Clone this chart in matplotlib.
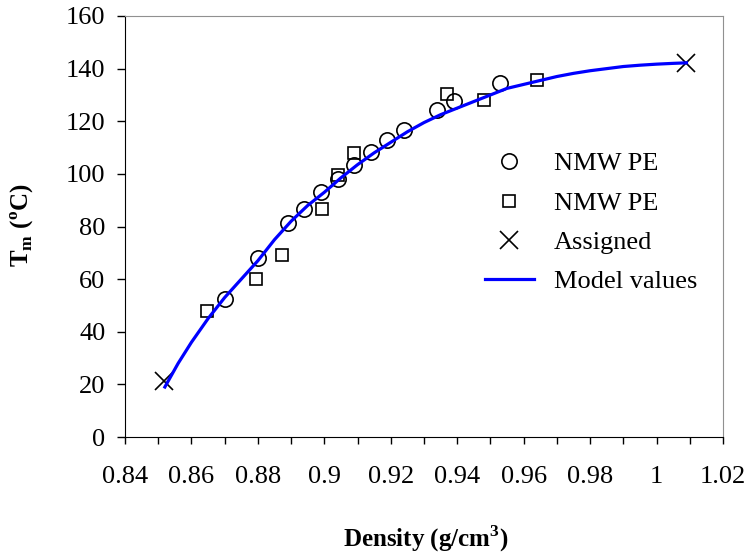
import matplotlib
matplotlib.use("Agg")
import matplotlib.pyplot as plt
from matplotlib.ticker import MultipleLocator

plt.rcParams["font.family"] = ["Liberation Serif", "DejaVu Serif"]
plt.rcParams["mathtext.fontset"] = "custom"
plt.rcParams["mathtext.rm"] = "Liberation Serif"
plt.rcParams["mathtext.bf"] = "Liberation Serif:bold"

# datos
dens_circ = [0.870, 0.880, 0.889, 0.894, 0.899, 0.904, 0.909, 0.914, 0.919, 0.924, 0.934, 0.939, 0.953]
tm_circ = [52.5, 68, 81.4, 86.7, 93.2, 98, 103.4, 108.4, 112.9, 116.7, 124.3, 127.7, 134.6]

dens_sq = [0.8646, 0.8793, 0.8874, 0.8994, 0.904, 0.909, 0.937, 0.948, 0.964]
tm_sq = [48, 60, 69, 86.7, 99.5, 108, 130.4, 128.1, 135.7]

dens_x = [0.8517, 1.0089]
tm_x = [21.3, 142.2]

dens_model = [0.852, 0.856, 0.860, 0.865, 0.870, 0.875, 0.880, 0.885, 0.890, 0.895,
              0.900, 0.905, 0.910, 0.915, 0.920, 0.925, 0.930, 0.935, 0.940, 0.945,
              0.950, 0.955, 0.960, 0.965, 0.970, 0.975, 0.980, 0.985, 0.990, 0.995,
              1.000, 1.005, 1.009]
tm_model = [19, 28, 36, 45, 53, 60, 67, 75, 82, 88,
            93, 98.5, 103.5, 108, 112, 116, 119.5, 122.5, 125, 127.5,
            130, 132.5, 134, 135.5, 137, 138.2, 139.2, 140, 140.8, 141.3,
            141.7, 142, 142.2]

W, H = 749, 553
fig = plt.figure(figsize=(W / 100, H / 100), dpi=100)
ax = fig.add_axes([125 / W, 1 - 437 / H, 598 / W, 421 / H])

ax.plot(dens_circ, tm_circ, "o", ms=11, mfc="none", mec="black", mew=1.2, label="NMW PE")
ax.plot(dens_sq, tm_sq, "s", ms=9, mfc="none", mec="black", mew=1.2, label="NMW PE")
ax.plot(dens_x, tm_x, "x", ms=13, mec="black", mew=1.2, label="Assigned")
ax.plot(dens_model, tm_model, "-", color="#0000ff", lw=2.3, label="Model values")

ax.set_xlim(0.84, 1.02)
ax.set_ylim(0, 160)
ax.xaxis.set_major_locator(MultipleLocator(0.02))
ax.xaxis.set_minor_locator(MultipleLocator(0.01))
ax.yaxis.set_major_locator(MultipleLocator(20))
ax.set_xticklabels([f"{v:g}" for v in ax.get_xticks()])

ax.tick_params(axis="x", which="both", direction="out", length=5, width=1, labelsize=19, pad=16)
ax.tick_params(axis="y", which="major", direction="out", length=6, width=1, labelsize=19, pad=8)

for s in ["top", "right"]:
    ax.spines[s].set_color("#909090")
for s in ["left", "bottom"]:
    ax.spines[s].set_color("black")

fig.text(426 / W, 1 - 547 / H, r"Density (g/cm$^\mathbf{3}$)", fontsize=18, fontweight="bold",
         ha="center", va="baseline")
fig.text(22 / W, 1 - 225 / H, r"T$_\mathbf{m}$ ($^\mathbf{o}$C)", fontsize=18, fontweight="bold",
         ha="center", va="center", rotation=90)

ax.legend(loc="upper left", bbox_to_anchor=(485 / W, 1 - 152 / H), bbox_transform=fig.transFigure,
          frameon=False, fontsize=19, borderpad=0, borderaxespad=0, handlelength=1.85,
          handletextpad=0.75, labelspacing=0.6)

fig.savefig("out.png", dpi=100)
